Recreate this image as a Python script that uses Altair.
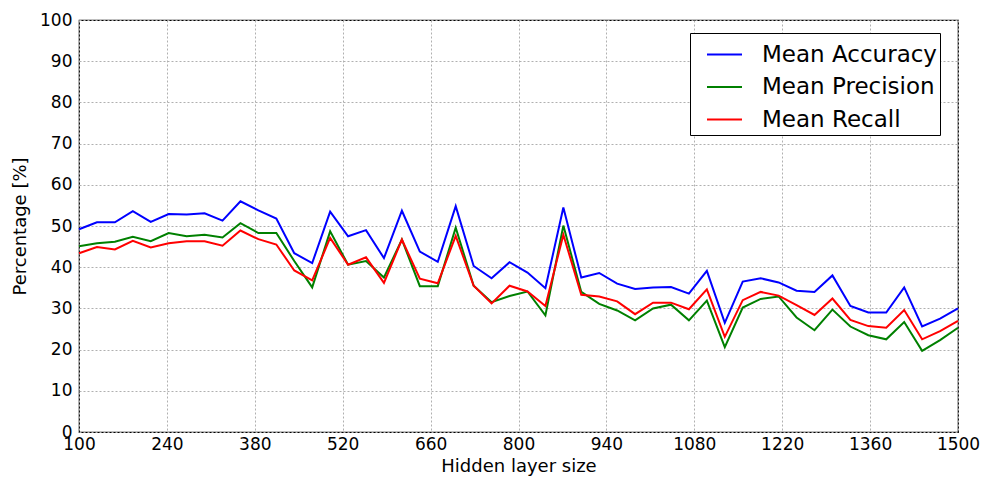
import altair as alt
import pandas as pd
import numpy as np

hidden_sizes = list(np.linspace(100, 1500, 50))

mean_accuracy = [49.2, 50.9, 50.9, 53.6, 51.0, 52.9, 52.8, 53.1, 51.3, 56.0,
                 53.8, 51.8, 43.4, 41.0, 53.5, 47.5, 49.0, 42.2, 53.7, 43.8,
                 41.3, 54.8, 40.3, 37.3, 41.2, 38.7, 34.9, 54.5, 37.5, 38.6,
                 36.0, 34.7, 35.1, 35.2, 33.6, 39.1, 26.5, 36.5, 37.3, 36.3,
                 34.3, 34.0, 38.0, 30.6, 29.0, 29.0, 35.1, 25.6, 27.5, 30.0]

mean_precision = [45.1, 45.8, 46.2, 47.4, 46.3, 48.3, 47.5, 47.9, 47.2, 50.7,
                  48.3, 48.3, 41.5, 35.1, 48.7, 40.6, 41.5, 37.5, 46.7, 35.4,
                  35.4, 49.6, 35.5, 31.5, 33.0, 34.1, 28.3, 50.1, 34.0, 31.1,
                  29.5, 27.1, 30.0, 30.9, 27.1, 31.9, 20.6, 30.2, 32.3, 32.9,
                  27.8, 24.7, 29.7, 25.6, 23.5, 22.5, 26.7, 19.7, 22.3, 25.3]

mean_recall = [43.4, 44.9, 44.3, 46.4, 44.8, 45.8, 46.3, 46.3, 45.2, 48.9,
               46.8, 45.5, 39.2, 36.8, 47.1, 40.6, 42.4, 36.2, 46.7, 37.2,
               36.1, 47.6, 35.5, 31.2, 35.5, 34.1, 30.6, 47.9, 33.3, 32.9,
               31.7, 28.6, 31.4, 31.4, 29.8, 34.6, 23.1, 32.0, 34.0, 33.1,
               30.8, 28.4, 32.4, 27.2, 25.7, 25.3, 29.6, 22.5, 24.5, 27.0]

series_names = ["Mean Accuracy", "Mean Precision", "Mean Recall"]
series_colors = ["#0000ff", "#008000", "#ff0000"]
x_ticks = [100, 240, 380, 520, 660, 800, 940, 1080, 1220, 1360, 1500]
y_ticks = [0, 10, 20, 30, 40, 50, 60, 70, 80, 90, 100]

rows = []
for name, vals in zip(series_names, [mean_accuracy, mean_precision, mean_recall]):
    for x, v in zip(hidden_sizes, vals):
        rows.append({"size": x, "value": v, "series": name})
df = pd.DataFrame(rows)

FONT = "DejaVu Sans"

chart = alt.Chart(df).mark_line(strokeWidth=2).encode(
    x=alt.X("size:Q", scale=alt.Scale(domain=[100, 1500], nice=False, zero=False),
            axis=alt.Axis(values=x_ticks, title="Hidden layer size", format="d",
                          grid=True, gridDash=[2, 2], gridColor="#b0b0b0",
                          domain=False, ticks=False, labelPadding=4,
                          labelFontSize=17, titleFontSize=18, titlePadding=5,
                          labelColor="black", titleColor="black",
                          labelFont=FONT, titleFont=FONT, titleFontWeight="normal",
                          labelFlush=False)),
    y=alt.Y("value:Q", scale=alt.Scale(domain=[0, 100], nice=False),
            axis=alt.Axis(values=y_ticks, title="Percentage [%]",
                          grid=True, gridDash=[2, 2], gridColor="#b0b0b0",
                          domain=False, ticks=False, labelPadding=7,
                          labelFontSize=17, titleFontSize=18, titlePadding=10,
                          labelColor="black", titleColor="black",
                          labelFont=FONT, titleFont=FONT, titleFontWeight="normal")),
    color=alt.Color("series:N",
                    scale=alt.Scale(domain=series_names, range=series_colors),
                    legend=alt.Legend(title=None, orient="none",
                                      legendX=611, legendY=13,
                                      symbolType="stroke", symbolStrokeWidth=2,
                                      symbolSize=1225, symbolOffset=13,
                                      labelFontSize=23,
                                      labelFont=FONT, labelColor="black",
                                      rowPadding=1.5, padding=3,
                                      strokeColor="black", fillColor="white",
                                      labelOffset=19, cornerRadius=0,
                                      labelLimit=400)),
).properties(
    width=879, height=412,
).configure_view(
    stroke="black", strokeWidth=1.2,
).properties(
    autosize=alt.AutoSizeParams(type="none"),
    padding={"left": 79, "top": 20, "right": 25, "bottom": 47},
    background="white",
)

chart.save("out.html", embed_options={"renderer": "svg", "actions": False})
